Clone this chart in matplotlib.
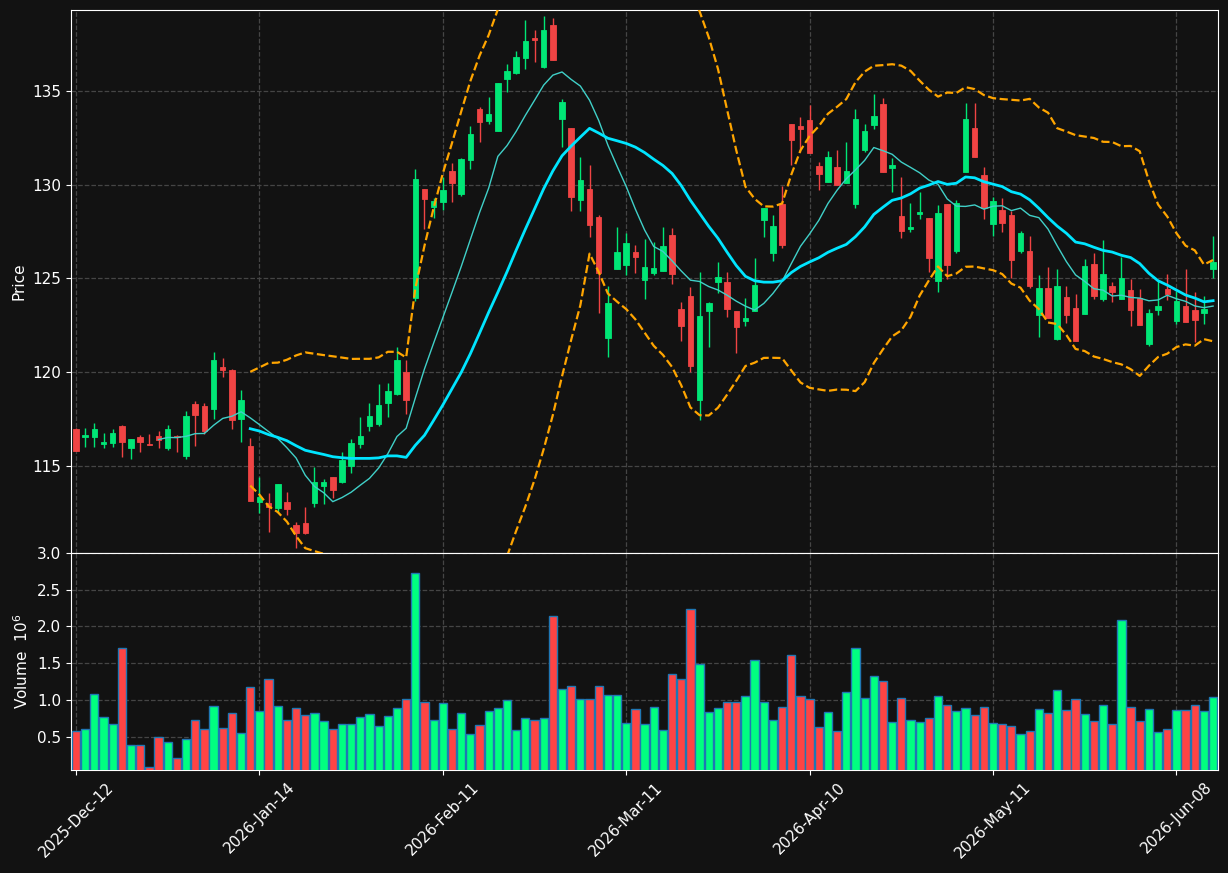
import matplotlib.pyplot as plt
import numpy as np
import pandas as pd

# daily OHLC (125 sessions)
opens = [116.97, 116.55, 116.56, 116.19, 116.24, 117.13, 115.98, 116.55, 116.18, 116.60,
         115.98, 116.58, 115.53, 118.31, 118.20, 118.04, 120.26, 120.12, 117.50, 116.07,
         113.10, 113.03, 112.78, 113.10, 111.85, 111.94, 113.05, 113.95, 114.41, 114.16,
         115.02, 116.19, 117.15, 117.26, 118.38, 118.86, 120.00, 123.98, 129.77, 128.83,
         129.10, 130.73, 129.51, 131.34, 134.06, 133.40, 132.88, 135.64, 135.96, 136.78,
         137.83, 136.30, 138.52, 133.52, 133.03, 129.20, 129.77, 128.28, 121.85, 125.52,
         125.72, 126.41, 124.92, 125.29, 125.42, 127.32, 123.37, 124.07, 118.52, 123.29,
         124.81, 124.81, 123.29, 122.75, 123.29, 128.14, 126.38, 128.97, 133.24, 133.13,
         133.45, 131.00, 130.16, 130.93, 130.08, 128.99, 131.85, 133.20, 134.31, 130.91,
         128.33, 127.62, 128.46, 128.23, 124.89, 128.97, 126.47, 130.70, 133.03, 130.52,
         127.93, 128.65, 128.39, 126.48, 126.47, 123.07, 124.49, 121.79, 124.01, 123.43,
         123.12, 125.77, 123.92, 124.60, 123.92, 124.39, 123.96, 121.52, 123.34, 124.44,
         122.75, 123.53, 123.32, 123.14, 125.50]
highs = [117.00, 117.00, 117.31, 116.74, 116.95, 117.19, 116.44, 116.65, 116.71, 116.87,
         117.17, 116.63, 117.93, 118.45, 118.34, 121.10, 120.75, 120.15, 119.05, 116.49,
         114.43, 113.54, 114.04, 113.60, 112.03, 112.80, 114.93, 114.29, 114.41, 115.76,
         116.42, 117.60, 118.34, 119.36, 119.41, 121.33, 120.65, 130.82, 129.77, 129.28,
         130.43, 131.18, 131.44, 133.15, 134.13, 134.70, 135.43, 136.42, 137.13, 138.79,
         138.25, 139.00, 138.88, 134.56, 133.03, 131.46, 131.05, 128.39, 124.60, 127.76,
         127.43, 126.79, 127.09, 126.93, 127.73, 127.70, 123.73, 124.53, 125.33, 123.76,
         125.86, 125.33, 123.29, 123.94, 126.08, 128.76, 128.39, 129.93, 133.24, 133.60,
         134.25, 131.23, 131.80, 131.85, 132.26, 134.02, 133.22, 134.82, 134.61, 131.41,
         130.40, 129.01, 129.60, 128.23, 128.90, 128.97, 129.19, 134.34, 134.34, 130.97,
         129.36, 129.27, 128.60, 127.52, 127.25, 125.17, 125.61, 125.50, 124.60, 124.17,
         126.02, 126.34, 127.05, 124.83, 126.16, 124.97, 124.44, 123.37, 124.88, 125.24,
         124.33, 125.50, 124.28, 124.07, 127.28]
lows = [115.80, 116.03, 115.99, 115.94, 115.99, 115.50, 115.36, 115.76, 116.12, 115.98,
        115.87, 115.76, 115.39, 116.08, 116.69, 117.50, 119.73, 116.95, 116.30, 113.15,
        112.51, 111.46, 112.51, 112.37, 110.60, 111.37, 112.80, 112.96, 113.28, 114.11,
        114.61, 115.94, 116.88, 117.15, 117.63, 118.80, 117.76, 123.80, 127.64, 128.21,
        128.65, 129.10, 129.42, 130.82, 132.30, 133.22, 132.88, 134.96, 135.89, 136.16,
        136.56, 136.21, 136.67, 132.03, 128.62, 128.62, 127.20, 123.14, 120.83, 125.52,
        125.19, 125.28, 123.89, 125.19, 125.42, 124.71, 121.65, 120.00, 117.45, 121.37,
        124.20, 122.96, 121.01, 122.49, 123.29, 127.23, 125.93, 126.61, 131.05, 131.76,
        131.71, 129.72, 130.16, 129.99, 130.08, 128.74, 131.76, 132.96, 130.70, 129.60,
        127.14, 127.50, 128.17, 125.33, 124.26, 124.96, 126.34, 130.70, 131.50, 128.16,
        127.29, 127.50, 125.04, 126.38, 124.48, 121.90, 122.91, 121.72, 122.64, 121.68,
        123.12, 123.89, 123.82, 123.73, 123.92, 122.47, 122.54, 121.40, 123.05, 123.85,
        122.57, 122.70, 121.60, 122.57, 125.01]
closes = [115.82, 116.65, 116.97, 116.30, 116.76, 116.30, 116.44, 116.30, 116.14, 116.39,
          116.97, 116.55, 117.67, 117.72, 116.87, 120.65, 120.12, 117.45, 118.52, 113.15,
          113.36, 112.83, 114.04, 112.72, 111.41, 111.44, 114.15, 114.15, 113.72, 115.32,
          116.21, 116.60, 117.67, 118.25, 119.00, 120.65, 118.54, 130.31, 129.22, 129.12,
          129.72, 130.11, 131.37, 132.71, 133.36, 133.77, 135.43, 136.07, 136.81, 137.67,
          137.74, 138.25, 136.67, 134.40, 129.36, 130.25, 127.87, 125.28, 123.68, 126.41,
          126.89, 126.16, 125.61, 125.56, 126.73, 125.24, 122.47, 120.35, 123.00, 123.69,
          125.08, 123.37, 122.43, 122.89, 124.65, 128.76, 127.82, 126.80, 132.40, 132.96,
          131.71, 130.57, 131.46, 129.99, 130.73, 133.51, 132.87, 133.67, 130.70, 131.05,
          127.55, 127.76, 128.56, 126.11, 128.48, 125.72, 129.01, 133.51, 131.50, 128.78,
          129.13, 127.98, 126.00, 127.43, 124.62, 124.49, 122.91, 124.60, 123.07, 121.68,
          125.67, 124.08, 125.24, 124.30, 125.03, 123.34, 122.54, 123.16, 123.53, 124.17,
          123.80, 122.70, 122.80, 123.37, 125.88]
# volume in millions
volumes = [0.573, 0.600, 1.077, 0.763, 0.668, 1.705, 0.382, 0.382, 0.091, 0.491,
           0.423, 0.204, 0.463, 0.723, 0.600, 0.914, 0.614, 0.818, 0.545, 1.173,
           0.845, 1.282, 0.914, 0.723, 0.886, 0.791, 0.818, 0.709, 0.600, 0.668,
           0.668, 0.763, 0.804, 0.641, 0.777, 0.886, 1.009, 2.727, 0.968, 0.723,
           0.954, 0.600, 0.818, 0.532, 0.654, 0.845, 0.886, 0.995, 0.586, 0.750,
           0.723, 0.750, 2.141, 1.145, 1.186, 1.009, 1.009, 1.186, 1.064, 1.064,
           0.682, 0.873, 0.668, 0.900, 0.586, 1.350, 1.282, 2.236, 1.486, 0.832,
           0.886, 0.968, 0.968, 1.050, 1.541, 0.968, 0.723, 0.900, 1.609, 1.050,
           1.009, 0.627, 0.832, 0.573, 1.105, 1.705, 1.023, 1.323, 1.255, 0.695,
           1.023, 0.723, 0.695, 0.750, 1.050, 0.927, 0.845, 0.886, 0.791, 0.900,
           0.682, 0.668, 0.641, 0.532, 0.573, 0.873, 0.818, 1.132, 0.859, 1.009,
           0.804, 0.709, 0.927, 0.668, 2.086, 0.900, 0.709, 0.873, 0.559, 0.600,
           0.859, 0.859, 0.927, 0.845, 1.036]
tick_labels = ['2025-Dec-12', '2026-Jan-14', '2026-Feb-11', '2026-Mar-11',
               '2026-Apr-10', '2026-May-11', '2026-Jun-08']

bg = '#121212'
up_c = '#00e676'
dn_c = '#f04444'
vol_up = '#00ff80'
vol_dn = '#ff4444'

df = pd.DataFrame({'Open': opens, 'High': highs, 'Low': lows, 'Close': closes, 'Volume': volumes})
x = np.arange(len(df))
up = df['Close'] >= df['Open']
colors = np.where(up, up_c, dn_c)

ma10 = df['Close'].rolling(10).mean()
ma20 = df['Close'].rolling(20).mean()
sd20 = df['Close'].rolling(20).std(ddof=0)
upper = ma20 + 2 * sd20
lower = ma20 - 2 * sd20

fig = plt.figure(figsize=(12.28, 8.73), dpi=100, facecolor=bg)
ax1 = fig.add_axes([0.0578, 0.3666, 0.9341, 0.6219])
ax2 = fig.add_axes([0.0578, 0.118, 0.9341, 0.2486], sharex=ax1)

for ax in (ax1, ax2):
    ax.set_facecolor(bg)
    for s in ax.spines.values():
        s.set_color('white')
    ax.tick_params(colors='white', labelsize=11)
    ax.grid(True, color='#454545', linestyle='--', linewidth=0.9)
    ax.set_axisbelow(True)

# candles
ax1.vlines(x, df['Low'], df['High'], colors=colors, linewidth=1, zorder=2)
body_bottom = np.minimum(df['Open'], df['Close'])
body_h = np.maximum((df['Close'] - df['Open']).abs(), 0.04)
ax1.bar(x, body_h, bottom=body_bottom, width=0.6, color=colors,
        edgecolor=colors, linewidth=0.6, zorder=3)

# moving averages and bands
ax1.plot(x, ma10, color='#40d0c8', linewidth=1, zorder=4)
ax1.plot(x, ma20, color='#00e5ff', linewidth=2, zorder=4)
ax1.plot(x, upper, color='orange', linestyle='--', linewidth=1.6, zorder=4)
ax1.plot(x, lower, color='orange', linestyle='--', linewidth=1.6, zorder=4)

ax1.set_ylim(110.36, 139.32)
ax1.set_yticks([115, 120, 125, 130, 135])
ax1.set_ylabel('Price', color='white', fontsize=11)
ax1.tick_params(axis='x', labelbottom=False)

# volume
vcolors = np.where(up, vol_up, vol_dn)
ax2.bar(x, df['Volume'], width=0.9, color=vcolors, edgecolor='#1f77b4',
        linewidth=1, zorder=3)
ax2.set_ylim(0.045, 3.0)
ax2.set_yticks([0.5, 1.0, 1.5, 2.0, 2.5, 3.0])
ax2.set_ylabel('Volume  $10^6$', color='white', fontsize=11)

ax2.set_xlim(-0.55, 124.54)
ax2.set_xticks(range(0, 121, 20))
ax2.set_xticklabels(tick_labels, rotation=45)

fig.savefig('out.png', dpi=100, facecolor=bg)
